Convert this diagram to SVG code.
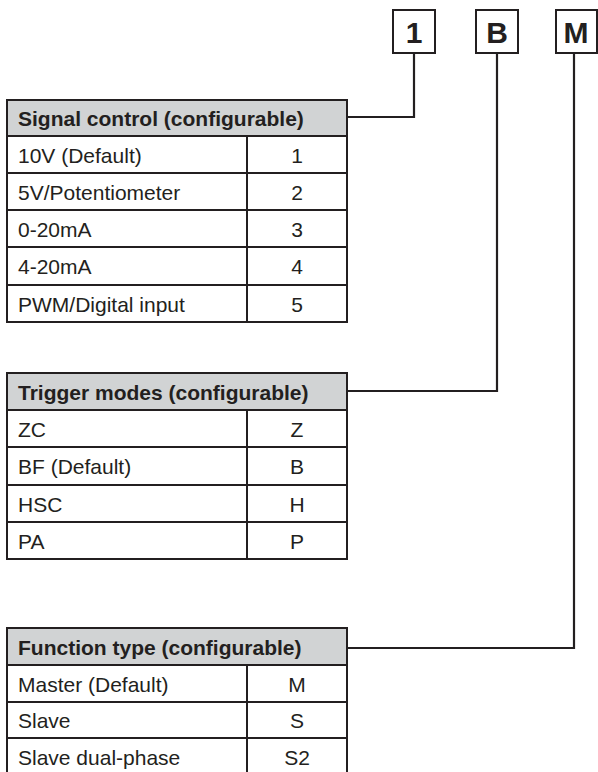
<svg xmlns="http://www.w3.org/2000/svg" width="598" height="772" viewBox="0 0 598 772">
<style>
.cell{fill:#fff;stroke:#231f20;stroke-width:2}
.hdr{fill:#d1d3d4;stroke:#231f20;stroke-width:2}
.t{font-family:"Liberation Sans",Arial,sans-serif;font-size:21px;fill:#231f20}
.b{font-weight:bold}
.c{text-anchor:middle}
.key{fill:#fff;stroke:#231f20;stroke-width:2}
.kt{font-family:"Liberation Sans",Arial,sans-serif;font-size:30px;font-weight:bold;fill:#231f20;text-anchor:middle}
.conn{fill:none;stroke:#231f20;stroke-width:2.2}
</style>
<rect width="598" height="772" fill="#fff"/>
<g id="key-1"><rect class="key" x="393" y="10" width="42" height="43"/><text class="kt" x="414" y="43">1</text></g>
<g id="key-B"><rect class="key" x="476" y="10" width="42" height="43"/><text class="kt" x="497" y="43">B</text></g>
<g id="key-M"><rect class="key" x="556" y="10" width="41" height="43"/><text class="kt" x="576" y="43">M</text></g>
<g id="connectors">
<polyline class="conn" points="414,53 414,117 347,117"/>
<polyline class="conn" points="497,53 497,391 347,391"/>
<polyline class="conn" points="574,53 574,648 347,648"/>
</g>
<g id="table-signal">
<rect class="hdr" x="7" y="100" width="340" height="36"/>
<text class="t b" x="18" y="126">Signal control (configurable)</text>
<rect class="cell" x="7" y="136" width="240" height="37"/><rect class="cell" x="247" y="136" width="100" height="37"/>
<rect class="cell" x="7" y="173" width="240" height="37"/><rect class="cell" x="247" y="173" width="100" height="37"/>
<rect class="cell" x="7" y="210" width="240" height="37"/><rect class="cell" x="247" y="210" width="100" height="37"/>
<rect class="cell" x="7" y="247" width="240" height="38"/><rect class="cell" x="247" y="247" width="100" height="38"/>
<rect class="cell" x="7" y="285" width="240" height="37"/><rect class="cell" x="247" y="285" width="100" height="37"/>
<text class="t" x="18" y="163">10V (Default)</text><text class="t c" x="297" y="163">1</text>
<text class="t" x="18" y="200">5V/Potentiometer</text><text class="t c" x="297" y="200">2</text>
<text class="t" x="18" y="237">0-20mA</text><text class="t c" x="297" y="237">3</text>
<text class="t" x="18" y="274">4-20mA</text><text class="t c" x="297" y="274">4</text>
<text class="t" x="18" y="312">PWM/Digital input</text><text class="t c" x="297" y="312">5</text>
</g>
<g id="table-trigger">
<rect class="hdr" x="7" y="373" width="340" height="37"/>
<text class="t b" x="18" y="400">Trigger modes (configurable)</text>
<rect class="cell" x="7" y="410" width="240" height="37"/><rect class="cell" x="247" y="410" width="100" height="37"/>
<rect class="cell" x="7" y="447" width="240" height="38"/><rect class="cell" x="247" y="447" width="100" height="38"/>
<rect class="cell" x="7" y="485" width="240" height="37"/><rect class="cell" x="247" y="485" width="100" height="37"/>
<rect class="cell" x="7" y="522" width="240" height="37"/><rect class="cell" x="247" y="522" width="100" height="37"/>
<text class="t" x="18" y="437">ZC</text><text class="t c" x="297" y="437">Z</text>
<text class="t" x="18" y="474">BF (Default)</text><text class="t c" x="297" y="474">B</text>
<text class="t" x="18" y="512">HSC</text><text class="t c" x="297" y="512">H</text>
<text class="t" x="18" y="549">PA</text><text class="t c" x="297" y="549">P</text>
</g>
<g id="table-function">
<rect class="hdr" x="7" y="628" width="340" height="37"/>
<text class="t b" x="18" y="655">Function type (configurable)</text>
<rect class="cell" x="7" y="665" width="240" height="37"/><rect class="cell" x="247" y="665" width="100" height="37"/>
<rect class="cell" x="7" y="702" width="240" height="36"/><rect class="cell" x="247" y="702" width="100" height="36"/>
<rect class="cell" x="7" y="738" width="240" height="40"/><rect class="cell" x="247" y="738" width="100" height="40"/>
<text class="t" x="18" y="692">Master (Default)</text><text class="t c" x="297" y="692">M</text>
<text class="t" x="18" y="728">Slave</text><text class="t c" x="297" y="728">S</text>
<text class="t" x="18" y="765">Slave dual-phase</text><text class="t c" x="297" y="765">S2</text>
</g>
</svg>
